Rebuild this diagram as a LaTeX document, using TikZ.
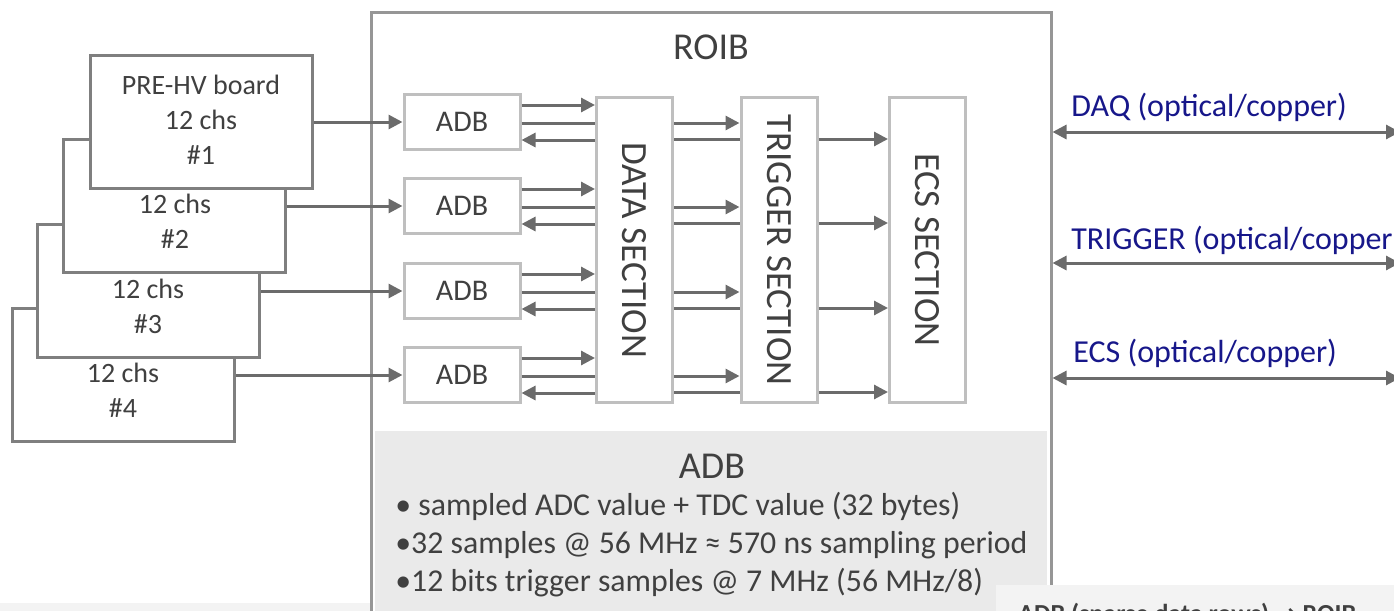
\documentclass[tikz,border=0pt]{standalone}
\usepackage{fontspec}
\setmainfont{Carlito}
\newfontfamily\symfont{DejaVu Sans}
\usetikzlibrary{arrows.meta, positioning}
\definecolor{brdline}{HTML}{7F7F7F}
\definecolor{roibline}{HTML}{969696}
\definecolor{boxline}{HTML}{BFBFBF}
\definecolor{arrline}{HTML}{6B6B6B}
\definecolor{txtgray}{HTML}{404040}
\definecolor{linknavy}{HTML}{17178A}
\definecolor{panelfill}{HTML}{EAEAEA}
\definecolor{notefill}{HTML}{F3F3F3}
\tikzset{
  board/.style  = {rectangle, draw=brdline, fill=white, line width=1.5pt,
                   minimum width=111pt, minimum height=66.5pt, inner sep=0pt},
  brdtxt/.style = {align=center, text=txtgray, font=\fontsize{14}{17.5}\selectfont, inner sep=0pt},
  adbbox/.style = {rectangle, draw=boxline, fill=white, line width=1.5pt, text=txtgray,
                   minimum width=58pt, minimum height=27.5pt, font=\fontsize{15}{18}\selectfont, inner sep=0pt},
  secbox/.style = {rectangle, draw=boxline, fill=white, line width=1.5pt, text=txtgray,
                   minimum width=38pt, minimum height=152.5pt, font=\fontsize{18.5}{22}\selectfont, inner sep=0pt},
  roibbox/.style= {rectangle, draw=roibline, line width=1.5pt,
                   minimum width=340pt, minimum height=314pt, inner sep=0pt},
  head/.style   = {text=txtgray, font=\fontsize{19}{23}\selectfont, inner sep=0pt},
  note/.style   = {text=txtgray, font=\fontsize{15.9}{19}\selectfont, align=left, inner sep=0pt},
  link/.style   = {text=linknavy, font=\fontsize{16}{19}\selectfont, inner sep=0pt, anchor=west},
  flow/.style   = {-{Triangle[length=7pt, width=7pt]}, line width=1.5pt, draw=arrline},
  wire/.style   = {line width=1.5pt, draw=arrline},
  dflow/.style  = {{Triangle[length=7pt, width=7pt]}-{Triangle[length=7pt, width=7pt]}, line width=1.5pt, draw=arrline},
}

\begin{document}
\begin{tikzpicture}[x=0.5pt, y=-0.5pt]
  \useasboundingbox (0,0) rectangle (1394,611);
  \clip (0,0) rectangle (1394,611);
  \fill[notefill] (0,603) rectangle (371,640);
  % ROIB frame
  \fill[panelfill] (375,431) rectangle (1047,640);
  \node[roibbox] (roib) at (711,326) {};
  \node[head] (roibt) at (711,47) {ROIB};
  % boards, back to front
  \node[board] (b4) at (123,375) {};
  \node[brdtxt] (t4) at (123,390) {12 chs\\\#4};
  \node[board] (b3) at (148,291) {};
  \node[brdtxt] (t3) at (148,306) {12 chs\\\#3};
  \node[board] (b2) at (174,206) {};
  \node[brdtxt] (t2) at (175,221) {12 chs\\\#2};
  \node[board] (b1) at (201,122) {};
  \node[brdtxt] (t1) at (201,120) {PRE-HV board\\12 chs\\\#1};
  % ADBs and sections
  \node[adbbox] (a1) at (462,122) {ADB};
  \node[adbbox] (a2) at (462,206) {ADB};
  \node[adbbox] (a3) at (462,291) {ADB};
  \node[adbbox] (a4) at (462,375) {ADB};
  \node[secbox] (data) at (634.5,250) {\rotatebox{-90}{DATA SECTION}};
  \node[secbox] (trig) at (779,250) {\rotatebox{-90}{TRIGGER SECTION}};
  \node[secbox] (ecs) at (927.5,250) {\rotatebox{-90}{ECS SECTION}};
  \foreach \i in {1,...,4}{
    \draw[flow] (a\i.west -| b\i.east) -- (a\i.west);
    \draw[flow] ([yshift=8.5pt]a\i.east) -- ([yshift=8.5pt]a\i.east -| data.west);
    \draw[wire] ([yshift=-0.5pt]a\i.east) -- ([yshift=-0.5pt]a\i.east -| data.west);
    \draw[flow] ([yshift=-9pt]a\i.east -| data.west) -- ([yshift=-9pt]a\i.east);
    \draw[flow] ([yshift=-0.5pt]a\i.east -| data.east) -- ([yshift=-0.5pt]a\i.east -| trig.west);
    \draw[wire] ([yshift=-8.5pt]a\i.east -| data.east) -- ([yshift=-8.5pt]a\i.east -| trig.west);
    \draw[flow] ([yshift=-8.5pt]a\i.east -| trig.east) -- ([yshift=-8.5pt]a\i.east -| ecs.west);
  }
  % ADB notes
  \node[head] (adbt) at (712,466) {ADB};
  \node[note, anchor=west] (adbnote) at (395,545) {• sampled ADC value + TDC value (32 bytes)\\•32 samples @ 56 MHz ≈ 570 ns sampling period\\•12 bits trigger samples @ 7 MHz (56 MHz/8)};
  % external links
  \coordinate (daq) at (1400,132);
  \coordinate (trg) at (1400,263);
  \coordinate (ecsl) at (1400,378);
  \draw[dflow] (roib.east |- daq) -- (daq);
  \draw[dflow] (roib.east |- trg) -- (trg);
  \draw[dflow] (roib.east |- ecsl) -- (ecsl);
  \node[link] (daqt) at (1071,107) {DAQ (optical/copper)};
  \node[link] (trgt) at (1071,240) {TRIGGER (optical/copper)};
  \node[link] (ecst) at (1073,353) {ECS (optical/copper)};
  % note box, cut by the page edge
  \fill[notefill] (996,585) rectangle (1400,640);
  \node[text=txtgray, font=\bfseries\fontsize{13}{16}\selectfont, anchor=base west, inner sep=0pt] (adbro) at (1018,622) {ADB (sparse data rows) {\symfont →} ROIB};
\end{tikzpicture}
\end{document}
